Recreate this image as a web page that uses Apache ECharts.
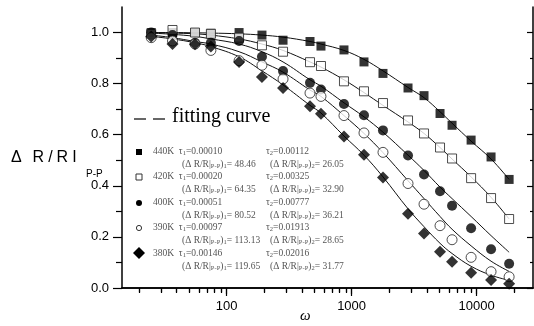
<!DOCTYPE html>
<html><head><meta charset="utf-8">
<script src="https://cdn.jsdelivr.net/npm/echarts@6/dist/echarts.min.js"></script>
<style>html,body{margin:0;padding:0;background:#fff}#c{width:534px;height:326px}</style>
</head><body><div id="c"></div>
<script>
// ---- data ----
const omega = [25, 37, 56, 75, 126, 192, 283, 465, 569, 869, 1256, 1782, 2825, 3793, 5093, 6355, 9024, 13030, 18170];
const r440 = [1.0, 1.0, 1.0, 0.997, 1.0, 0.99, 0.97, 0.965, 0.947, 0.932, 0.885, 0.84, 0.783, 0.753, 0.683, 0.637, 0.579, 0.513, 0.425];
const r420 = [0.995, 1.01, 1.0, 0.995, 0.98, 0.95, 0.925, 0.884, 0.869, 0.809, 0.77, 0.724, 0.656, 0.605, 0.55, 0.507, 0.43, 0.352, 0.27];
const r400 = [1.0, 0.99, 0.96, 0.96, 0.967, 0.905, 0.849, 0.803, 0.777, 0.72, 0.676, 0.617, 0.519, 0.444, 0.379, 0.322, 0.234, 0.152, 0.095];
const r390 = [0.98, 0.967, 0.955, 0.93, 0.89, 0.872, 0.818, 0.763, 0.75, 0.675, 0.607, 0.531, 0.409, 0.328, 0.244, 0.189, 0.12, 0.064, 0.044];
const r380 = [0.985, 0.955, 0.954, 0.945, 0.885, 0.826, 0.783, 0.711, 0.682, 0.593, 0.522, 0.433, 0.291, 0.213, 0.142, 0.103, 0.06, 0.031, 0.017];
const f440 = [1.0, 1.0, 0.999, 0.998, 0.995, 0.99, 0.982, 0.965, 0.955, 0.93, 0.895, 0.85, 0.785, 0.745, 0.69, 0.645, 0.575, 0.505, 0.425];
const f420 = [1.0, 0.998, 0.995, 0.99, 0.975, 0.955, 0.93, 0.885, 0.865, 0.815, 0.765, 0.715, 0.65, 0.605, 0.55, 0.505, 0.435, 0.355, 0.27];
const f400 = [0.998, 0.993, 0.985, 0.975, 0.955, 0.925, 0.885, 0.815, 0.79, 0.725, 0.67, 0.61, 0.52, 0.46, 0.395, 0.35, 0.28, 0.205, 0.14];
const f390 = [0.99, 0.98, 0.965, 0.955, 0.925, 0.885, 0.845, 0.775, 0.75, 0.675, 0.605, 0.53, 0.42, 0.35, 0.28, 0.23, 0.165, 0.105, 0.065];
const f380 = [0.985, 0.975, 0.96, 0.945, 0.905, 0.85, 0.795, 0.715, 0.685, 0.595, 0.52, 0.435, 0.31, 0.24, 0.175, 0.135, 0.085, 0.05, 0.03];
const xMajor = [100, 1000, 10000];
const xMinor = [20,30,40,50,60,70,80,90,200,300,400,500,600,700,800,900,2000,3000,4000,5000,6000,7000,8000,9000,20000];
const yMajor = [0, 0.2, 0.4, 0.6, 0.8, 1.0];
const yMinor = [0.1, 0.3, 0.5, 0.7, 0.9];
const temps = ['440K', '420K', '400K', '390K', '380K'];
const tau1 = ['0.00010', '0.00020', '0.00051', '0.00097', '0.00146'];
const tau2 = ['0.00112', '0.00325', '0.00777', '0.01913', '0.02016'];
const amp1 = ['48.46', '64.35', '80.52', '113.13', '119.65'];
const amp2 = ['26.05', '32.90', '36.21', '28.65', '31.77'];

const pts = arr => omega.map((w, i) => [w, arr[i]]);
const black = '#000';
const chart = echarts.init(document.getElementById('c'));
const XMIN = 14.6, XMAX = 28200;

function scat(data, sym, size, filled) {
  return { type: 'scatter', xAxisIndex: 0, yAxisIndex: 0, data: pts(data), symbol: sym, symbolSize: size,
    itemStyle: filled ? { color: '#000' } : { color: '#fff', borderColor: '#222', borderWidth: 1 }, z: 5 };
}
function fit(data) {
  return { type: 'line', xAxisIndex: 0, yAxisIndex: 0, data: pts(data), smooth: 0.4, showSymbol: false,
    lineStyle: { color: '#111', width: 1 }, z: 3 };
}
const baseX = { type: 'log', min: XMIN, max: XMAX, splitLine: { show: false } };
const baseY = { type: 'value', min: 0, max: 1.1, splitLine: { show: false } };
const sub = { fontSize: 6.5, fontFamily: 'Liberation Serif', fill: '#555', verticalAlign: 'bottom', lineHeight: 9 };
const txt = { fontSize: 9.5, fontFamily: 'Liberation Serif', fill: '#555', lineHeight: 11 };
const yl = { fontSize: 16, fontFamily: 'Liberation Sans', fill: '#000', padding: [0, 2, 0, 2] };

const graphic = [
  { type: 'text', left: 11, top: 150, style: { text: 'Δ  {a|R}{a|/}{a|R}{a|I}', font: '16px "Liberation Sans"', fill: '#000', rich: { a: yl } } },
  { type: 'text', left: 86, top: 169, style: { text: 'P-P', font: '10px "Liberation Sans"', fill: '#000' } },
  { type: 'text', left: 300, top: 309, style: { text: 'ω', font: 'italic 15px "Liberation Serif"', fill: '#000' } },
  { type: 'line', shape: { x1: 134, y1: 119, x2: 146, y2: 119 }, style: { stroke: '#000', lineWidth: 1.2 } },
  { type: 'line', shape: { x1: 153, y1: 119, x2: 165, y2: 119 }, style: { stroke: '#000', lineWidth: 1.2 } },
  { type: 'text', left: 172, top: 107, style: { text: 'fitting curve', font: '20px "Liberation Serif"', fill: '#000' } }
];
const rowY = [152, 177, 203, 228, 254];
rowY.forEach((y, i) => {
  graphic.push({ type: 'text', left: 153, top: y - 6, style: { text: temps[i] + '  τ{s|1}=' + tau1[i], rich: { s: sub }, ...txt } });
  graphic.push({ type: 'text', left: 266, top: y - 6, style: { text: 'τ{s|2}=' + tau2[i], rich: { s: sub }, ...txt } });
  graphic.push({ type: 'text', left: 182, top: y + 7, style: { text: '(Δ R/R|{s|P-P}){s|1}= ' + amp1[i], rich: { s: sub }, ...txt } });
  graphic.push({ type: 'text', left: 270, top: y + 7, style: { text: '(Δ R/R|{s|P-P}){s|2}= ' + amp2[i], rich: { s: sub }, ...txt } });
});
graphic.push({ type: 'rect', shape: { x: 136, y: 149, width: 6, height: 6 }, style: { fill: '#000' } });
graphic.push({ type: 'rect', shape: { x: 136, y: 174, width: 6, height: 6 }, style: { fill: '#fff', stroke: '#333', lineWidth: 1 } });
graphic.push({ type: 'circle', shape: { cx: 139, cy: 203, r: 3 }, style: { fill: '#000' } });
graphic.push({ type: 'circle', shape: { cx: 139, cy: 228, r: 2.6 }, style: { fill: '#fff', stroke: '#333', lineWidth: 1 } });
graphic.push({ type: 'polygon', shape: { points: [[139, 247], [145, 253], [139, 259], [133, 253]] }, style: { fill: '#000' } });

chart.setOption({
  animation: false,
  grid: { left: 122, right: 1, top: 7, bottom: 38 },
  xAxis: [
    Object.assign({}, baseX, { position: 'bottom', axisLine: { lineStyle: { color: black, width: 1.5 } },
      axisTick: { customValues: xMajor, length: 8, inside: false, lineStyle: { color: black, width: 1.2 } },
      axisLabel: { customValues: xMajor, color: '#000', fontSize: 13, fontFamily: 'Liberation Sans', margin: 12, formatter: v => String(Math.round(v)) } }),
    Object.assign({}, baseX, { position: 'bottom', axisLine: { show: false },
      axisTick: { customValues: xMinor, length: 5, inside: false, lineStyle: { color: black, width: 1.2 } },
      axisLabel: { show: false } }),
    Object.assign({}, baseX, { position: 'top', axisLine: { lineStyle: { color: black, width: 1.5 } },
      axisTick: { customValues: xMajor, length: 6, inside: true, lineStyle: { color: black, width: 1.2 } },
      axisLabel: { show: false } }),
    Object.assign({}, baseX, { position: 'top', axisLine: { show: false },
      axisTick: { customValues: xMinor, length: 4, inside: true, lineStyle: { color: black, width: 1.2 } },
      axisLabel: { show: false } })
  ],
  yAxis: [
    Object.assign({}, baseY, { position: 'left', axisLine: { lineStyle: { color: black, width: 1.5 } },
      axisTick: { customValues: yMajor, length: 9, inside: false, lineStyle: { color: black, width: 1.2 } },
      axisLabel: { customValues: yMajor, color: '#000', fontSize: 13, fontFamily: 'Liberation Sans', margin: 13, formatter: v => v.toFixed(1) } }),
    Object.assign({}, baseY, { position: 'left', axisLine: { show: false },
      axisTick: { customValues: yMinor, length: 6, inside: false, lineStyle: { color: black, width: 1.2 } },
      axisLabel: { show: false } }),
    Object.assign({}, baseY, { position: 'right', axisLine: { lineStyle: { color: black, width: 1.5 } },
      axisTick: { customValues: yMajor, length: 6, inside: true, lineStyle: { color: black, width: 1.2 } },
      axisLabel: { show: false } }),
    Object.assign({}, baseY, { position: 'right', axisLine: { show: false },
      axisTick: { customValues: yMinor, length: 3, inside: true, lineStyle: { color: black, width: 1.2 } },
      axisLabel: { show: false } })
  ],
  series: [
    fit(f440), fit(f420), fit(f400), fit(f390), fit(f380),
    scat(r440, 'rect', 9, true),
    scat(r420, 'rect', 9, false),
    scat(r400, 'circle', 10, true),
    scat(r390, 'circle', 10, false),
    scat(r380, 'diamond', 12, true)
  ],
  graphic: graphic
});
</script></body></html>
